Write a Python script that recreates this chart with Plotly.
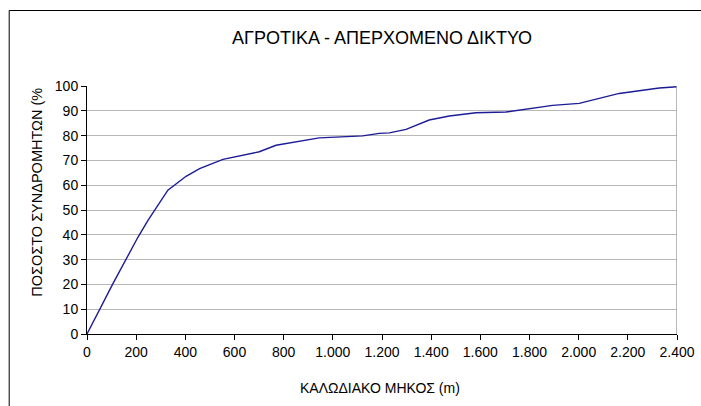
import plotly.graph_objects as go

length_m = [0, 105, 207, 248, 329, 403, 458, 553, 701, 769, 945, 1121, 1189, 1230, 1298,
            1392, 1474, 1582, 1704, 1799, 1894, 2002, 2070, 2165, 2246, 2328, 2400]
percent = [0, 20.2, 39.0, 45.8, 58.0, 63.6, 66.7, 70.4, 73.5, 76.1, 79.1, 79.9, 80.9, 81.1, 82.5,
           86.3, 87.9, 89.2, 89.5, 91.0, 92.2, 93.0, 94.6, 97.0, 98.1, 99.2, 99.7]

x_tickvals = [0, 200, 400, 600, 800, 1000, 1200, 1400, 1600, 1800, 2000, 2200, 2400]
x_ticktext = ["0", "200", "400", "600", "800", "1.000", "1.200", "1.400", "1.600",
              "1.800", "2.000", "2.200", "2.400"]
y_tickvals = [0, 10, 20, 30, 40, 50, 60, 70, 80, 90, 100]

title_text = "ΑΓΡΟΤΙΚΑ - ΑΠΕΡΧΟΜΕΝΟ ΔΙΚΤΥΟ"
x_title = "ΚΑΛΩΔΙΑΚΟ ΜΗΚΟΣ (m)"
y_title = "ΠΟΣΟΣΤΟ ΣΥΝΔΡΟΜΗΤΩΝ (%"

FONT = "Liberation Sans, Arial, sans-serif"

fig = go.Figure()
fig.add_trace(go.Scatter(x=length_m, y=percent, mode="lines",
                         line=dict(color="#1c1c96", width=1.4), showlegend=False))

W, H = 701, 406
L, R, T, B = 87.3, 23.7, 86, 72
pw, ph = W - L - R, H - T - B

def px_x(p):
    return (p - L) / pw

def px_y(p):
    return (H - B - p) / ph

fig.update_layout(
    width=W, height=H,
    margin=dict(l=L, r=R, t=T, b=B, pad=0, autoexpand=False),
    paper_bgcolor="white", plot_bgcolor="white",
    font=dict(family=FONT, size=14, color="black"),
    title=dict(text=title_text, x=0.5, xref="paper", xanchor="center",
               y=1 - 38 / H, yanchor="middle", font=dict(size=18, family=FONT)),
    xaxis=dict(range=[0, 2400], tickvals=x_tickvals, ticktext=x_ticktext,
               showgrid=False, zeroline=False, showline=True, linecolor="black",
               linewidth=1, ticks="outside", ticklen=5, tickcolor="black",
               tickfont=dict(size=14), fixedrange=True),
    yaxis=dict(range=[0, 100], tickvals=y_tickvals, showgrid=True, gridcolor="#b8b8b8",
               gridwidth=1, zeroline=False, showline=True, linecolor="black",
               linewidth=1, ticks="outside", ticklen=5, tickcolor="black",
               tickfont=dict(size=14), fixedrange=True),
    annotations=[
        dict(text=x_title, x=px_x(380), y=px_y(388), xref="paper", yref="paper",
             showarrow=False, xanchor="center", yanchor="middle", font=dict(size=14)),
        dict(text=y_title, x=px_x(37), y=px_y(192), xref="paper", yref="paper",
             showarrow=False, xanchor="center", yanchor="middle", textangle=-90,
             font=dict(size=14.5)),
    ],
    shapes=[
        dict(type="line", xref="x", yref="y", x0=2400, x1=2400, y0=0, y1=100,
             line=dict(color="#a0a0a0", width=1.5)),
        dict(type="rect", xref="paper", yref="paper",
             x0=px_x(9.5), x1=px_x(720), y0=px_y(10.5), y1=px_y(420),
             line=dict(color="black", width=1)),
    ],
)

fig.write_html("out.html",
               config={"displayModeBar": False, "staticPlot": True},
               post_script="document.body.style.margin='0px';"
                           "document.body.style.overflow='hidden';")
